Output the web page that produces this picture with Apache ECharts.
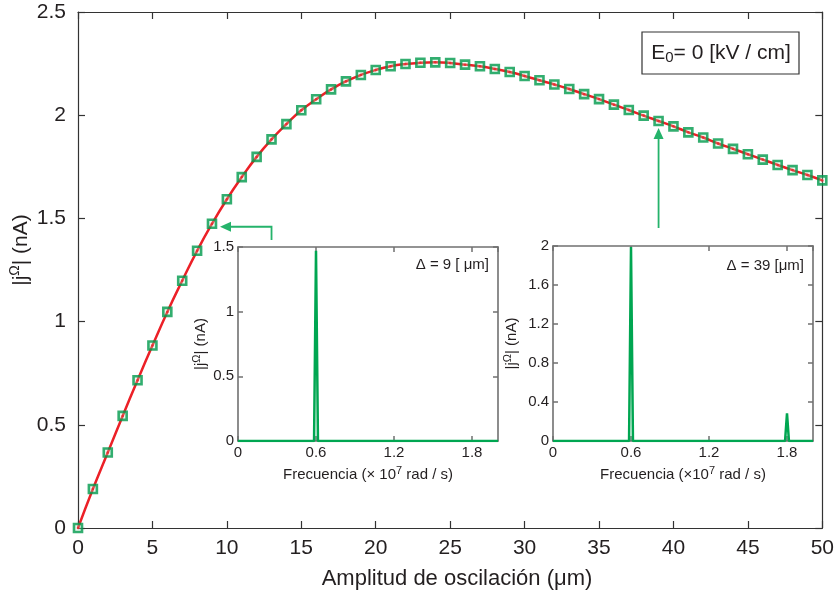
<!DOCTYPE html>
<html>
<head>
<meta charset="utf-8">
<script src="https://cdn.jsdelivr.net/npm/echarts@6/dist/echarts.min.js"></script>
<style>html,body{margin:0;padding:0;background:#fff}#c{width:837px;height:595px}</style>
</head>
<body>
<div id="c"></div>
<script>
// ---- data ----
var amplitude = [0,1,2,3,4,5,6,7,8,9,10,11,12,13,14,15,16,17,18,19,20,21,22,23,24,25,26,27,28,29,30,31,32,33,34,35,36,37,38,39,40,41,42,43,44,45,46,47,48,49,50];
var current = [0,0.189,0.366,0.543,0.716,0.884,1.047,1.198,1.343,1.474,1.593,1.700,1.798,1.883,1.957,2.024,2.077,2.125,2.164,2.195,2.219,2.237,2.248,2.254,2.256,2.253,2.245,2.237,2.224,2.209,2.190,2.169,2.149,2.127,2.102,2.078,2.051,2.025,1.998,1.972,1.946,1.917,1.892,1.863,1.837,1.811,1.785,1.759,1.734,1.710,1.684];
var freq9 = [0,0.585,0.6,0.615,1.785,1.8,1.815,2.0];
var spec9 = [0,0,1.47,0,0,0.012,0,0];
var freq39 = [0,0.585,0.6,0.615,1.785,1.8,1.815,2.0];
var spec39 = [0,0,1.99,0,0,0.285,0,0];
var mainXTicks = {min:0,max:50,interval:5};
var mainYTicks = {min:0,max:2.5,interval:0.5};
var inset1Y = {min:0,max:1.5,interval:0.5};
var inset2Y = {min:0,max:2,interval:0.4};
var insetX = {min:0,max:2,interval:0.6};
var arrowPoints = [9,39];

function pairs(a,b){return a.map(function(v,i){return [v,b[i]];});}

var FONT = "'Liberation Sans', Arial, Helvetica, sans-serif";
var TXT = '#231f20';
var chart = echarts.init(document.getElementById('c'), null, {renderer:'canvas'});

function axis(type, grid, pos, range){
  var main = grid === 0;
  return {
    type:'value', gridIndex:grid, position:pos,
    min:range.min, max:range.max, interval:range.interval,
    axisLine:{show:true, onZero:false, lineStyle:{color: main ? '#333' : '#707070', width: main ? 1.2 : 1.6}},
    axisTick:{show:true, inside:true, length: main ? 7 : 5, lineStyle:{color: main ? '#333' : '#707070', width: main ? 1.2 : 1.5}},
    splitLine:{show:false},
    axisLabel:{show:false, color:TXT, fontFamily:FONT, fontSize: main ? 21 : 15, margin: main ? 6 : 4,
      formatter:function(v){return String(Math.round(v*100)/100);}}
  };
}

var xAxes = [
  axis('x',0,'bottom',mainXTicks), axis('x',0,'top',mainXTicks),
  axis('x',1,'bottom',insetX), axis('x',1,'top',insetX),
  axis('x',2,'bottom',insetX), axis('x',2,'top',insetX)
];
var yAxes = [
  axis('y',0,'left',mainYTicks), axis('y',0,'right',mainYTicks),
  axis('y',1,'left',inset1Y), axis('y',1,'right',inset1Y),
  axis('y',2,'left',inset2Y), axis('y',2,'right',inset2Y)
];
[0,2,4].forEach(function(i){ xAxes[i].axisLabel.show = true; yAxes[i].axisLabel.show = true; });
xAxes[0].axisLabel.margin = 10;
yAxes[0].axisLabel.margin = 12;
xAxes[2].axisLabel.showMaxLabel = false;
xAxes[4].axisLabel.showMaxLabel = false;

var supRich = {s:{fontSize:11, fontFamily:FONT, color:TXT, padding:[0,0,9,0]}};
xAxes[2].name = 'Frecuencia (× 10{s|7} rad / s)';
xAxes[4].name = 'Frecuencia (×10{s|7} rad / s)';
[2,4].forEach(function(i){
  xAxes[i].nameLocation='middle'; xAxes[i].nameGap = 24;
  xAxes[i].nameTextStyle = {color:TXT, fontFamily:FONT, fontSize:15, rich:supRich};
});
[2,4].forEach(function(i){
  yAxes[i].name = '|j{s|Ω}| (nA)';
  yAxes[i].nameLocation='middle'; yAxes[i].nameGap = i===2 ? 27 : 31; yAxes[i].nameRotate = 90;
  yAxes[i].nameTextStyle = {color:TXT, fontFamily:FONT, fontSize:15, rich:supRich};
});

var option = {
  animation:false,
  backgroundColor:'#fff',
  grid:[
    {left:78, top:12, right:14, bottom:67},
    {left:238, top:247, width:260, height:194, show:true, backgroundColor:'#fff', borderWidth:0},
    {left:553, top:246, width:260, height:195, show:true, backgroundColor:'#fff', borderWidth:0}
  ],
  xAxis: xAxes,
  yAxis: yAxes,
  series:[
    {type:'line', xAxisIndex:0, yAxisIndex:0, data:pairs(amplitude,current), smooth:true, showSymbol:false,
     lineStyle:{color:'#ec2027', width:2.5}, z:3},
    {type:'scatter', xAxisIndex:0, yAxisIndex:0, data:pairs(amplitude,current), symbol:'rect', symbolSize:8,
     itemStyle:{color:'rgba(190,230,200,0.35)', borderColor:'#009a4c', borderWidth:2.6}, z:4},
    {type:'scatter', xAxisIndex:0, yAxisIndex:0, data:pairs(amplitude,current), symbol:'circle', symbolSize:2.5,
     itemStyle:{color:'#ec2027'}, z:5, silent:true},
    {type:'line', xAxisIndex:2, yAxisIndex:2, data:pairs(freq9,spec9), showSymbol:false,
     lineStyle:{color:'#00a651', width:2.5}},
    {type:'line', xAxisIndex:4, yAxisIndex:4, data:pairs(freq39,spec39), showSymbol:false,
     lineStyle:{color:'#00a651', width:2.5}}
  ]
};
chart.setOption(option);

// annotations
var g = [];
var arrowCol = '#25b36b';
var p9 = chart.convertToPixel({gridIndex:0}, [arrowPoints[0], current[arrowPoints[0]]]);
var xv = chart.convertToPixel({gridIndex:0}, [13, 0])[0];
var yh = p9[1] + 3;
var tip1 = p9[0] + 8;
g.push({type:'polyline', shape:{points:[[xv,240],[xv,yh],[tip1+9,yh]]}, style:{stroke:arrowCol, lineWidth:1.8, fill:null}, z:10});
g.push({type:'polygon', shape:{points:[[tip1,yh],[tip1+11,yh-5],[tip1+11,yh+5]]}, style:{fill:arrowCol}, z:10});
var p39 = chart.convertToPixel({gridIndex:0}, [arrowPoints[1], current[arrowPoints[1]]]);
var tip2 = p39[1] + 7;
g.push({type:'line', shape:{x1:p39[0], y1:228, x2:p39[0], y2:tip2+9}, style:{stroke:arrowCol, lineWidth:1.8}, z:10});
g.push({type:'polygon', shape:{points:[[p39[0],tip2],[p39[0]-5,tip2+11],[p39[0]+5,tip2+11]]}, style:{fill:arrowCol}, z:10});

// E0 box
g.push({type:'rect', shape:{x:642, y:32, width:157, height:42}, style:{fill:'#fff', stroke:'#333', lineWidth:1.2}, z:10});
g.push({type:'text', x:721, y:53, style:{text:'E{b|0}= 0 [kV / cm]', fontSize:21, fontFamily:FONT, fill:TXT, align:'center', verticalAlign:'middle',
  rich:{b:{fontSize:15, fontFamily:FONT, fill:TXT, padding:[10,0,0,0]}}}, z:11});

// main y-axis title
g.push({type:'text', x:21, y:250, rotation:Math.PI/2, style:{text:'|j{s|Ω}| (nA)', fontSize:21, fontFamily:FONT, fill:TXT, align:'center', verticalAlign:'middle',
  rich:{s:{fontSize:14, fontFamily:FONT, fill:TXT, padding:[0,0,12,0]}}}, z:11});
// main x-axis title
g.push({type:'text', x:457, y:579, style:{text:'Amplitud de oscilación (μm)', fontSize:22, fontFamily:FONT, fill:TXT, align:'center', verticalAlign:'middle'}, z:11});

// inset annotations
g.push({type:'text', x:489, y:265, style:{text:'Δ = 9 [ μm]', fontSize:15, fontFamily:FONT, fill:TXT, align:'right', verticalAlign:'middle'}, z:11});
g.push({type:'text', x:804, y:266, style:{text:'Δ = 39 [μm]', fontSize:15, fontFamily:FONT, fill:TXT, align:'right', verticalAlign:'middle'}, z:11});

chart.setOption({graphic:g});
</script>
</body>
</html>
